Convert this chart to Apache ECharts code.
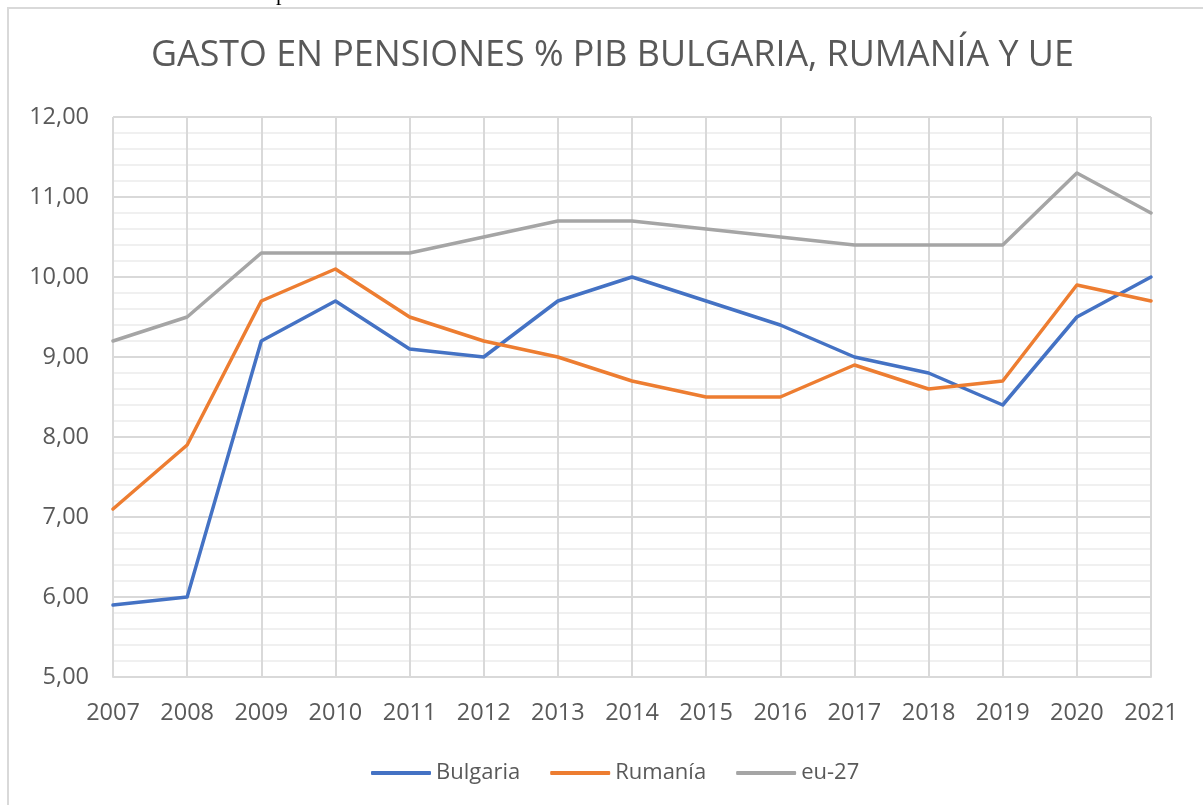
<!DOCTYPE html>
<html>
<head>
    <meta charset="utf-8">
    <title>Gasto en pensiones</title>
    <script src="https://cdn.jsdelivr.net/npm/echarts@6/dist/echarts.min.js"></script>
    <style>
        html, body { margin: 0; padding: 0; background: #fff; }
        #main { width: 1203px; height: 805px; }
    </style>
</head>
<body>
<div id="main"></div>
<script type="text/javascript">
    // datos
    var years = ['2007', '2008', '2009', '2010', '2011', '2012', '2013', '2014', '2015', '2016', '2017', '2018', '2019', '2020', '2021'];
    var bulgaria = [5.9, 6.0, 9.2, 9.7, 9.1, 9.0, 9.7, 10.0, 9.7, 9.4, 9.0, 8.8, 8.4, 9.5, 10.0];
    var rumania = [7.1, 7.9, 9.7, 10.1, 9.5, 9.2, 9.0, 8.7, 8.5, 8.5, 8.9, 8.6, 8.7, 9.9, 9.7];
    var eu27 = [9.2, 9.5, 10.3, 10.3, 10.3, 10.5, 10.7, 10.7, 10.6, 10.5, 10.4, 10.4, 10.4, 11.3, 10.8];
    var seriesNames = ['Bulgaria', 'Rumanía', 'eu-27'];
    var colors = ['#4472C4', '#ED7D31', '#A5A5A5'];

    var font = '"Open Sans", sans-serif';
    var txt = '#595959';

    var myChart = echarts.init(document.getElementById('main'));

    function serie(name, data, color) {
        return {
            name: name,
            type: 'line',
            data: data,
            symbol: 'none',
            smooth: false,
            lineStyle: { width: 3.5, color: color, cap: 'round', join: 'round' },
            itemStyle: { color: color }
        };
    }

    var option = {
        animation: false,
        backgroundColor: '#fff',
        title: {
            text: 'GASTO EN PENSIONES % PIB BULGARIA, RUMANÍA Y UE',
            left: 146,
            top: 33,
            textStyle: { fontFamily: font, fontSize: 35.8, fontWeight: 'normal', color: txt }
        },
        legend: {
            data: seriesNames,
            top: 757,
            left: 366,
            itemWidth: 60,
            itemHeight: 4,
            itemGap: 30,
            icon: 'roundRect',
            textStyle: { fontFamily: font, fontSize: 22, color: txt }
        },
        grid: { left: 113, right: 52, top: 117, bottom: 128 },
        xAxis: {
            type: 'category',
            data: years,
            boundaryGap: false,
            axisLine: { lineStyle: { color: '#d9d9d9', width: 2 } },
            axisTick: { show: false },
            axisLabel: { fontFamily: font, fontSize: 23.5, color: txt, margin: 24 },
            splitLine: { show: true, lineStyle: { color: '#d9d9d9', width: 2 } }
        },
        yAxis: {
            type: 'value',
            min: 5,
            max: 12,
            interval: 1,
            axisLine: { show: false },
            axisTick: { show: false },
            axisLabel: {
                fontFamily: font, fontSize: 23.5, color: txt, margin: 24,
                formatter: function (v) { return v.toFixed(2).replace('.', ','); }
            },
            splitLine: { lineStyle: { color: '#d9d9d9', width: 2 } },
            minorTick: { show: false, splitNumber: 5 },
            minorSplitLine: { show: true, lineStyle: { color: '#f0f0f0', width: 2 } }
        },
        graphic: [
            {
                type: 'rect',
                shape: { x: 8, y: 8, width: 1300, height: 900 },
                style: { fill: 'none', stroke: '#d9d9d9', lineWidth: 2 },
                silent: true
            },
            {
                type: 'text',
                x: 276,
                y: -17,
                style: { text: 'p', fontFamily: '"Liberation Serif", serif', fontSize: 22, fill: '#000' },
                silent: true
            }
        ],
        series: [
            serie(seriesNames[0], bulgaria, colors[0]),
            serie(seriesNames[1], rumania, colors[1]),
            serie(seriesNames[2], eu27, colors[2])
        ]
    };
    myChart.setOption(option);
</script>
</body>
</html>
